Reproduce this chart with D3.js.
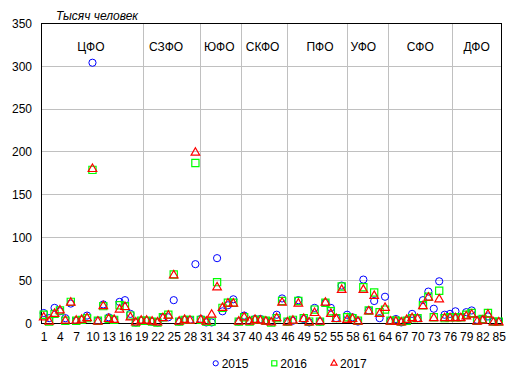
<!DOCTYPE html>
<html><head><meta charset="utf-8">
<script src="https://cdn.jsdelivr.net/npm/d3@7"></script>
<style>
body{margin:0;background:#fff;}
text{font-family:"Liberation Sans",Arial,sans-serif;}
</style></head>
<body><svg id="c" width="513" height="378"></svg>
<script>
const regions = d3.range(1, 86);
const v2015 = [12,6,18,14,6,23,3,4,9,304,3,22,7,4,25,27,11,1,3,3,2,1,7,7,27,2,4,4,69,5,1,1,76,14,21,28,2,9,3,5,5,3,2,10,29,2,3,27,5,1,18,2,24,18,6,44,10,7,2,51,15,26,6,31,3,5,1,3,11,6,27,37,17,49,10,11,14,7,13,15,4,4,8,2,2];
const v2016 = [10,2,11,15,3,25,3,4,6,179,3,20,5,4,21,20,9,1,3,3,2,1,7,10,57,2,4,4,187,4,2,2,48,18,24,24,2,7,2,4,4,3,1,6,26,2,4,26,6,2,16,2,24,14,6,43,7,6,3,42,15,36,13,16,3,3,2,3,6,6,21,31,7,38,6,7,7,7,10,12,3,5,12,2,2];
const v2017 = [7,2,11,15,3,24,3,4,6,180,2,20,5,4,16,19,7,1,3,3,2,1,6,9,56,2,4,3,199,4,2,10,42,18,23,23,2,7,2,4,3,2,1,6,24,1,3,23,5,1,12,2,24,11,5,39,4,5,2,39,14,32,11,18,2,2,1,4,6,5,20,30,6,28,6,6,6,6,8,10,2,3,10,1,1];
const xTicks = d3.range(1, 86, 3);
const yTicks = [0,50,100,150,200,250,300,350];
const districts = ["ЦФО","СЗФО","ЮФО","СКФО","ПФО","УФО","СФО","ДФО"];
const districtLabelAt = [9.7, 23.6, 33.4, 41.4, 52.0, 60.0, 70.5, 80.9];
const districtBounds = [19.5, 30, 37.5, 46, 57, 64.6, 76.5];
const seriesNames = ["2015","2016","2017"];

const svg = d3.select("#c");
const L = 41, R = 501.5, T = 23.3, B = 323.3;
const x = d3.scaleLinear().domain([0.5, 85.5]).range([L, R]);
const y = d3.scaleLinear().domain([0, 350]).range([B, T]);

svg.append("g").selectAll("line").data(yTicks.filter(d => d > 0 && d < 350)).join("line")
  .attr("x1", L).attr("x2", R).attr("y1", d => y(d)).attr("y2", d => y(d))
  .attr("stroke", "#c0c0c0").attr("stroke-width", 1).attr("shape-rendering", "crispEdges");
svg.append("g").selectAll("line").data(districtBounds).join("line")
  .attr("x1", d => x(d)).attr("x2", d => x(d)).attr("y1", T).attr("y2", B)
  .attr("stroke", "#c0c0c0").attr("stroke-width", 1).attr("shape-rendering", "crispEdges");

svg.append("rect").attr("x", L).attr("y", T).attr("width", R - L).attr("height", B - T)
  .attr("fill", "none").attr("stroke", "#000").attr("stroke-width", 1).attr("shape-rendering", "crispEdges");

const yAxis = d3.axisLeft(y).tickValues(yTicks).tickSize(0).tickPadding(9);
const gy = svg.append("g").attr("transform", `translate(${L},0)`).call(yAxis);
gy.select(".domain").remove();
gy.selectAll("text").attr("font-size", 12).attr("fill", "#000").attr("font-family", "Liberation Sans, Arial, sans-serif");

const xAxis = d3.axisBottom(x).tickValues(xTicks).tickSize(0).tickPadding(9).tickFormat(d3.format("d"));
const gx = svg.append("g").attr("transform", `translate(0,${B})`).call(xAxis);
gx.select(".domain").remove();
gx.selectAll("text").attr("font-size", 12).attr("fill", "#000").attr("font-family", "Liberation Sans, Arial, sans-serif");

svg.append("text").attr("x", 56).attr("y", 19.5).attr("font-size", 12).attr("font-style", "italic")
  .text("Тысяч человек");

svg.append("g").selectAll("text").data(districts).join("text")
  .attr("x", (d, i) => x(districtLabelAt[i])).attr("y", 50.5)
  .attr("text-anchor", "middle").attr("font-size", 12).text(d => d);

const circ = svg.append("g");
circ.selectAll("circle").data(regions).join("circle")
  .attr("cx", d => x(d)).attr("cy", (d, i) => y(v2015[i])).attr("r", 3.6)
  .attr("fill", "none").attr("stroke", "#0000ff").attr("stroke-width", 1);
const sq = svg.append("g");
sq.selectAll("path").data(regions).join("path")
  .attr("d", d3.symbol(d3.symbolSquare, 52)())
  .attr("transform", (d, i) => `translate(${x(d)},${y(v2016[i])})`)
  .attr("fill", "none").attr("stroke", "#00ff00").attr("stroke-width", 1.2);
const tri = svg.append("g");
tri.selectAll("path").data(regions).join("path")
  .attr("d", d3.symbol(d3.symbolTriangle, 32)())
  .attr("transform", (d, i) => `translate(${x(d)},${y(v2017[i])})`)
  .attr("fill", "none").attr("stroke", "#ff0000").attr("stroke-width", 1.2);

const lg = svg.append("g");
const legX = [215.7, 274.3, 334];
const legColors = ["#0000ff", "#00ff00", "#ff0000"];
const ly = 363.3;
lg.append("circle").attr("cx", legX[0]).attr("cy", ly).attr("r", 2.6)
  .attr("fill", "none").attr("stroke", legColors[0]);
lg.append("path").attr("d", d3.symbol(d3.symbolSquare, 26)())
  .attr("transform", `translate(${legX[1]},${ly})`).attr("fill", "none").attr("stroke", legColors[1]).attr("stroke-width", 1.2);
lg.append("path").attr("d", d3.symbol(d3.symbolTriangle, 16)())
  .attr("transform", `translate(${legX[2]},${ly})`).attr("fill", "none").attr("stroke", legColors[2]).attr("stroke-width", 1.2);
lg.selectAll("text").data(seriesNames).join("text")
  .attr("x", (d, i) => legX[i] + 6).attr("y", ly + 4.3).attr("font-size", 12).text(d => d);
</script></body></html>
